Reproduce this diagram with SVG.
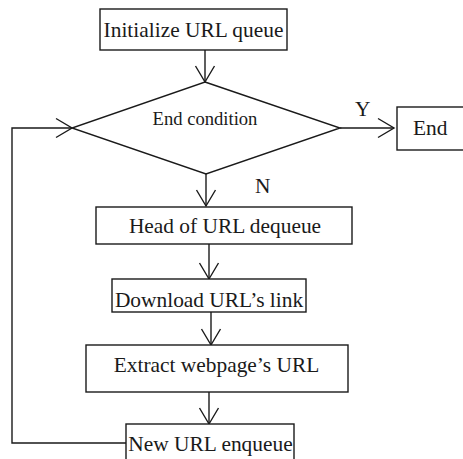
<svg xmlns="http://www.w3.org/2000/svg" width="463" height="459" viewBox="0 0 463 459">
<style>
.box{fill:#fff;stroke:#1a1a1a;stroke-width:1.4}
.ln{fill:none;stroke:#1a1a1a;stroke-width:1.4}
text{font-family:"Liberation Serif","Times New Roman",serif;fill:#1a1a1a;font-size:21.4px}
.c{text-anchor:middle}
</style>
<defs>
<marker id="ah" markerUnits="userSpaceOnUse" viewBox="-18 -11 20 22" refX="0" refY="0" markerWidth="20" markerHeight="22" orient="auto">
<path d="M-16,-9.5 L0,0 L-16,9.5" fill="none" stroke="#1a1a1a" stroke-width="1.4"/>
</marker>
</defs>
<g id="connectors">
<line class="ln" x1="205" y1="50" x2="205" y2="82" marker-end="url(#ah)"/>
<line class="ln" x1="340" y1="128" x2="394" y2="128" marker-end="url(#ah)"/>
<path class="ln" d="M126,443 H12 V128 H72" marker-end="url(#ah)"/>
<line class="ln" x1="206" y1="174" x2="206" y2="206" marker-end="url(#ah)"/>
<line class="ln" x1="209" y1="244" x2="209" y2="279" marker-end="url(#ah)"/>
<line class="ln" x1="211" y1="312" x2="211" y2="345" marker-end="url(#ah)"/>
<line class="ln" x1="209" y1="392" x2="209" y2="424" marker-end="url(#ah)"/>
<text x="355" y="116">Y</text>
<text x="255" y="193">N</text>
</g>
<g id="init">
<rect class="box" x="100" y="9" width="187" height="41"/>
<text class="c" x="193.5" y="37">Initialize URL queue</text>
</g>
<g id="cond">
<polygon class="box" points="205,82 340,128 206,174 72,128"/>
<text class="c" x="205" y="125" style="font-size:18.6px">End condition</text>
</g>
<g id="end">
<rect class="box" x="397" y="107" width="70" height="43"/>
<text x="413" y="135">End</text>
</g>
<g id="head">
<rect class="box" x="96" y="207" width="256" height="37"/>
<text class="c" x="225" y="233">Head of URL dequeue</text>
</g>
<g id="download">
<rect class="box" x="112" y="279" width="194" height="33"/>
<text class="c" x="209" y="307">Download URL’s link</text>
</g>
<g id="extract">
<rect class="box" x="86" y="345" width="262" height="47"/>
<text class="c" x="216.5" y="372">Extract webpage’s URL</text>
</g>
<g id="enqueue">
<rect class="box" x="126" y="424" width="168" height="40"/>
<text class="c" x="210.5" y="451">New URL enqueue</text>
</g>
</svg>
